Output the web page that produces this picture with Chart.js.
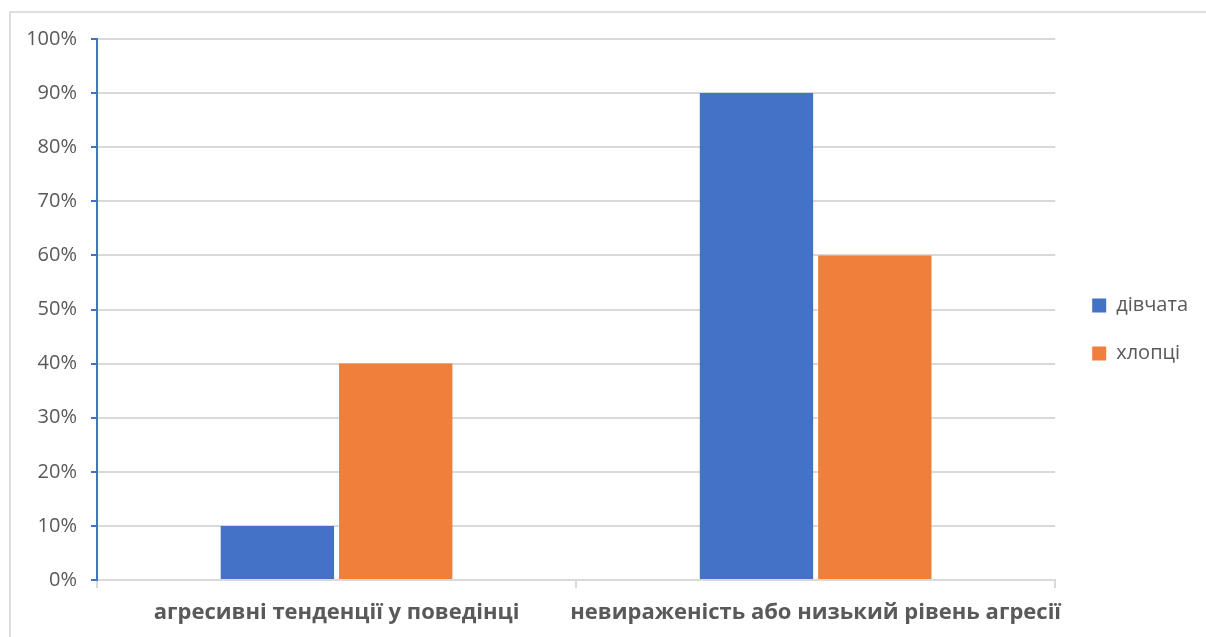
<!DOCTYPE html>
<html>
<head>
<meta charset="utf-8">
<script src="https://cdn.jsdelivr.net/npm/chart.js@4"></script>
<style>
    html, body { margin: 0; padding: 0; background: #fff; overflow: hidden; }
    .frame {
        position: absolute; left: 9px; top: 11px;
        width: 1300px; height: 700px;
        border-top: 2px solid #dedede; border-left: 2px solid #dedede;
    }
    .wrap { position: absolute; left: 0; top: 0; width: 1206px; height: 637px; }
</style>
</head>
<body>
<div class="frame"></div>
<div class="wrap"><canvas id="barChart"></canvas></div>
<script>
// Chart data
const categories = ['агресивні тенденції у поведінці', 'невираженість або низький рівень агресії'];
const seriesNames = ['дівчата', 'хлопці'];
const girls = [10, 90];
const boys = [40, 60];
const yTicks = [0, 10, 20, 30, 40, 50, 60, 70, 80, 90, 100];

const COLORS = {
    blue: '#4472C4',
    orange: '#F07F3B',
    grid: '#D9D9D9',
    text: '#595959'
};

const FONT = '"Open Sans", "DejaVu Sans", sans-serif';

// nudge the legend a bit, like the original
const legendShift = {
    id: 'legendShift',
    afterLayout(chart) {
        const lg = chart.legend;
        if (!lg) return;
        lg.left += 9;
        lg.right += 9;
        lg.top -= 5;
        lg.bottom -= 5;
    }
};

new Chart(document.getElementById('barChart'), {
    type: 'bar',
    data: {
        labels: categories,
        datasets: [
            { label: seriesNames[0], data: girls, backgroundColor: COLORS.blue,
              barPercentage: 0.958, categoryPercentage: 0.494 },
            { label: seriesNames[1], data: boys, backgroundColor: COLORS.orange,
              barPercentage: 0.958, categoryPercentage: 0.494 }
        ]
    },
    options: {
        responsive: true,
        maintainAspectRatio: false,
        animation: false,
        layout: { padding: { left: 20, top: 39, right: 17, bottom: 7 } },
        plugins: {
            tooltip: { enabled: false },
            legend: {
                position: 'right',
                labels: {
                    boxWidth: 14,
                    boxHeight: 14,
                    padding: 28,
                    color: COLORS.text,
                    font: { family: FONT, size: 20 }
                }
            }
        },
        scales: {
            x: {
                afterFit: (scale) => {
                    scale.height = 50;
                    scale.paddingLeft = 0;
                    scale.paddingRight = 0;
                },
                grid: {
                    offset: true,
                    drawOnChartArea: false,
                    drawTicks: true,
                    tickLength: 8,
                    tickColor: COLORS.grid,
                    lineWidth: 2
                },
                border: { color: COLORS.grid, width: 2 },
                ticks: {
                    padding: 12,
                    maxRotation: 0,
                    minRotation: 0,
                    autoSkip: false,
                    color: COLORS.text,
                    font: { family: FONT, size: 22, weight: 'bold' }
                }
            },
            y: {
                min: 0,
                max: 100,
                afterBuildTicks: (scale) => {
                    scale.ticks = yTicks.map(v => ({ value: v }));
                },
                afterFit: (scale) => { scale.width = 77; },
                grid: {
                    color: COLORS.grid,
                    lineWidth: 2,
                    tickColor: COLORS.blue,
                    tickLength: 6
                },
                border: { color: COLORS.blue, width: 2 },
                ticks: {
                    padding: 14,
                    color: COLORS.text,
                    font: { family: FONT, size: 20 },
                    callback: (v) => v + '%'
                }
            }
        }
    },
    plugins: [legendShift]
});
</script>
</body>
</html>
